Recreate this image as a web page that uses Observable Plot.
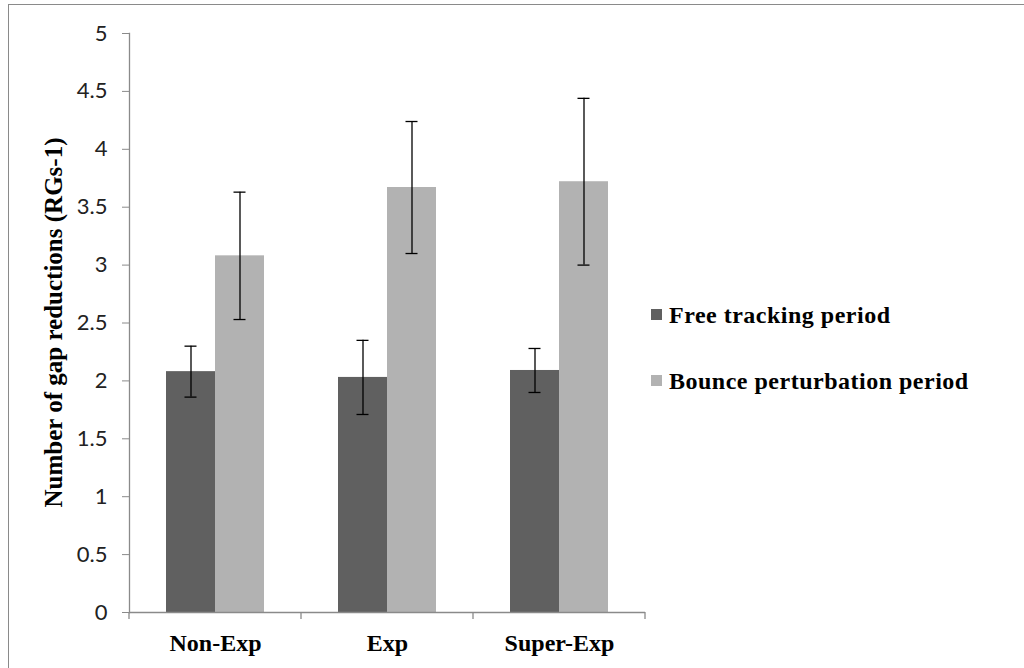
<!DOCTYPE html>
<html>
<head>
<meta charset="utf-8">
<script src="https://cdn.jsdelivr.net/npm/d3@7"></script>
<script src="https://cdn.jsdelivr.net/npm/@observablehq/plot@0.6"></script>
<style>
  html, body { margin: 0; padding: 0; background: #fff; }
  #wrap { position: relative; width: 1024px; height: 668px; overflow: hidden; }
  #border { position: absolute; left: 8px; top: 4px; width: 1100px; height: 800px;
            border-top: 1px solid #8a8a8a; border-left: 1px solid #8a8a8a; pointer-events: none; }
  .leg { position: absolute; left: 651px; font-family: "Liberation Serif", "Times New Roman", serif;
         font-weight: bold; font-size: 24px; line-height: 24px; letter-spacing: 0.5px; color: #000; white-space: nowrap; }
  .leg .sw { position: absolute; left: 0; width: 11px; height: 11px; }
  .leg .tx { position: absolute; left: 18px; top: 0; }
</style>
</head>
<body>
<div id="wrap"><div id="border"></div></div>
<script>
// ---- data ----
const groups = ["Non-Exp", "Exp", "Super-Exp"];
const seriesNames = ["Free tracking period", "Bounce perturbation period"];
const freeValues = [2.08, 2.03, 2.09];
const freeErrors = [0.22, 0.32, 0.19];
const bounceValues = [3.08, 3.67, 3.72];
const bounceErrors = [0.55, 0.57, 0.72];
const yTicks = [0, 0.5, 1, 1.5, 2, 2.5, 3, 3.5, 4, 4.5, 5];
const yLabel = "Number of gap reductions (RGs-1)";
const colors = ["#606060", "#b2b2b2"];

const free = groups.map((g, i) => ({group: g, value: freeValues[i], err: freeErrors[i]}));
const bounce = groups.map((g, i) => ({group: g, value: bounceValues[i], err: bounceErrors[i]}));

const serif = "Liberation Serif, Times New Roman, serif";
const sans = "Lato, Open Sans, sans-serif";

function errorMarks(data, dx) {
  return [
    Plot.ruleX(data, {x: "group", y1: d => d.value - d.err, y2: d => d.value + d.err, dx, stroke: "#000", strokeWidth: 1.3}),
    Plot.tickY(data, {x: "group", y: d => d.value - d.err, dx, insetLeft: 80, insetRight: 80, stroke: "#000", strokeWidth: 1.3}),
    Plot.tickY(data, {x: "group", y: d => d.value + d.err, dx, insetLeft: 80, insetRight: 80, stroke: "#000", strokeWidth: 1.3})
  ];
}

const plot = Plot.plot({
  width: 1024,
  height: 668,
  marginLeft: 129,
  marginRight: 379,
  marginTop: 33,
  marginBottom: 56,
  style: {background: "transparent"},
  x: {domain: groups, padding: 0, axis: null},
  y: {domain: [0, 5], axis: null},
  marks: [
    Plot.barY(free, {x: "group", y: "value", fill: colors[0], insetLeft: 37, insetRight: 86}),
    Plot.barY(bounce, {x: "group", y: "value", fill: colors[1], insetLeft: 86, insetRight: 37}),
    ...errorMarks(free, -24.5),
    ...errorMarks(bounce, 24.5),
    Plot.ruleY([0], {stroke: "#8a8a8a", strokeWidth: 1.3}),
    Plot.frame({anchor: "left", stroke: "#8a8a8a", strokeWidth: 1.3}),
    Plot.axisY({ticks: yTicks, tickFormat: () => "", tickSize: 7, stroke: "#8a8a8a", label: null}),
    Plot.text(yTicks, {y: d => d, frameAnchor: "left", dx: -22, textAnchor: "end", lineAnchor: "middle",
                       text: d => String(d), fill: "#222", fontSize: 22, fontFamily: sans}),
    Plot.axisX({tickSize: 0, tickPadding: 21, fill: "#000", fontSize: 24, fontFamily: serif,
                fontWeight: "bold", label: null})
  ]
});

const xs = plot.scale("x");
const ys = plot.scale("y");
const svg = d3.select(plot);

// boundary ticks on the category axis, from the x scale
const [r0, r1] = xs.range;
const step = (r1 - r0) / groups.length;
const y0 = ys.apply(0);
for (let i = 0; i <= groups.length; i++) {
  const x = r0 + i * step;
  svg.append("line").attr("x1", x).attr("x2", x).attr("y1", y0).attr("y2", y0 + 7)
    .attr("stroke", "#8a8a8a").attr("stroke-width", 1.3);
}

// rotated y-axis title centered on the y range
const [ya, yb] = ys.range;
svg.append("text")
  .attr("transform", `translate(62,${(ya + yb) / 2}) rotate(-90)`)
  .attr("text-anchor", "middle")
  .attr("font-family", serif).attr("font-weight", "bold").attr("font-size", 25)
  .attr("fill", "#000")
  .text(yLabel);

const wrap = document.getElementById("wrap");
wrap.insertBefore(plot, wrap.firstChild);
plot.style.position = "absolute";
plot.style.left = "0px";
plot.style.top = "0px";

// legend
const legTops = [303, 369];
seriesNames.forEach((name, i) => {
  const d = document.createElement("div");
  d.className = "leg";
  d.style.top = legTops[i] + "px";
  d.innerHTML = `<span class="sw" style="background:${colors[i]};top:6px"></span><span class="tx"></span>`;
  d.querySelector(".tx").textContent = name;
  wrap.appendChild(d);
});
</script>
</body>
</html>
